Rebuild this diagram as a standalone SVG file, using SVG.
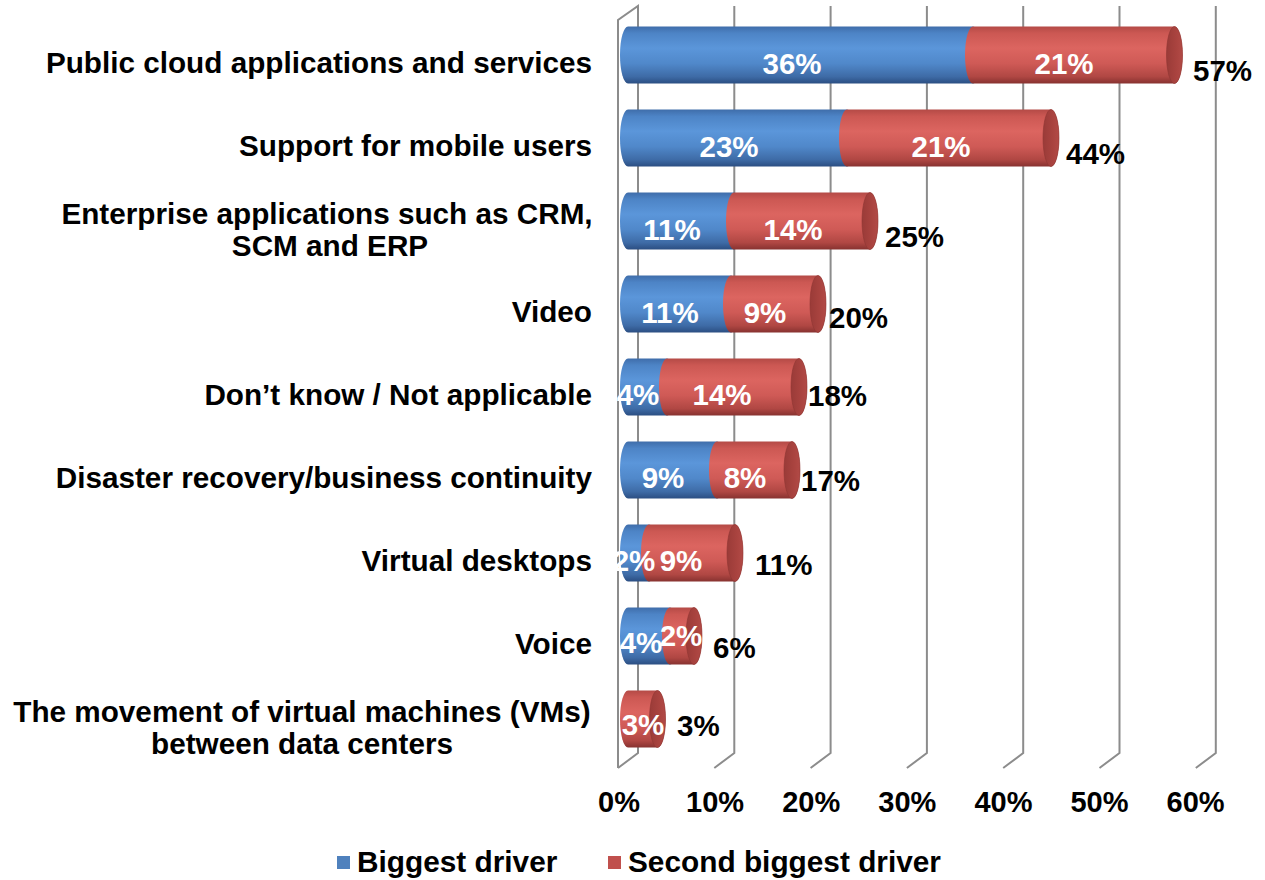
<svg xmlns="http://www.w3.org/2000/svg" width="1265" height="880" viewBox="0 0 1265 880">
<defs>
<linearGradient id="gBlue" x1="0" y1="0" x2="0" y2="1">
<stop offset="0" stop-color="#3F6DAA"/>
<stop offset="0.12" stop-color="#4D84C6"/>
<stop offset="0.38" stop-color="#5B96DA"/>
<stop offset="0.65" stop-color="#5088CA"/>
<stop offset="0.88" stop-color="#3E6BA6"/>
<stop offset="1" stop-color="#2B4E82"/>
</linearGradient>
<linearGradient id="gRed" x1="0" y1="0" x2="0" y2="1">
<stop offset="0" stop-color="#B44A46"/>
<stop offset="0.12" stop-color="#CC5853"/>
<stop offset="0.38" stop-color="#DC6560"/>
<stop offset="0.65" stop-color="#CF5A56"/>
<stop offset="0.88" stop-color="#B04743"/>
<stop offset="1" stop-color="#873230"/>
</linearGradient>
<linearGradient id="gCap" x1="0" y1="0" x2="1" y2="0">
<stop offset="0" stop-color="#9A3B38"/>
<stop offset="0.6" stop-color="#A9433F"/>
<stop offset="1" stop-color="#B24A46"/>
</linearGradient>
</defs>
<style>
.grid{stroke:#8C8C8C;stroke-width:2;fill:none}
.blue{fill:url(#gBlue)}
.red{fill:url(#gRed)}
.cap{fill:url(#gCap);stroke:#8E3533;stroke-width:0.6}
.cat{font-family:"Liberation Sans",Arial,sans-serif;font-weight:bold;font-size:29.7px;fill:#000;text-anchor:end}
.cat2{font-family:"Liberation Sans",Arial,sans-serif;font-weight:bold;font-size:29.7px;fill:#000;text-anchor:middle}
.val{font-family:"Liberation Sans",Arial,sans-serif;font-weight:bold;font-size:29.5px;fill:#FFF;text-anchor:middle}
.tot{font-family:"Liberation Sans",Arial,sans-serif;font-weight:bold;font-size:29.5px;fill:#000}
.ax{font-family:"Liberation Sans",Arial,sans-serif;font-weight:bold;font-size:29px;fill:#000;text-anchor:middle}
.leg{font-family:"Liberation Sans",Arial,sans-serif;font-weight:bold;font-size:29.8px;fill:#000}
</style>
<rect width="1265" height="880" fill="#FFFFFF"/>

<g id="gridlines">
<path class="grid" d="M618,768 L618,20 L638,6 L638,753 L618,768"/>
<path class="grid" d="M734.3,6 L734.3,753 L714.3,768"/>
<path class="grid" d="M830.6,6 L830.6,753 L810.6,768"/>
<path class="grid" d="M926.9,6 L926.9,753 L906.9,768"/>
<path class="grid" d="M1023.2,6 L1023.2,753 L1003.2,768"/>
<path class="grid" d="M1119.5,6 L1119.5,753 L1099.5,768"/>
<path class="grid" d="M1215.8,6 L1215.8,753 L1195.8,768"/>
</g>

<g id="bar-public-cloud">
<path class="blue" d="M628,26.5 L973,26.5 A8,28.5 0 0 1 973,83.5 L628,83.5 A8,28.5 0 0 1 628,26.5 Z"/>
<path class="red" d="M973,26.5 L1174.5,26.5 A8,28.5 0 0 1 1174.5,83.5 L973,83.5 A8,28.5 0 0 1 973,26.5 Z"/>
<ellipse class="cap" cx="1174.5" cy="55" rx="8" ry="28.5"/>
<text class="cat" x="592" y="73">Public cloud applications and services</text>
<text class="val" x="792" y="74">36%</text>
<text class="val" x="1064" y="74">21%</text>
<text class="tot" x="1193" y="81">57%</text>
</g>

<g id="bar-mobile">
<path class="blue" d="M628,109.5 L847,109.5 A8,28.5 0 0 1 847,166.5 L628,166.5 A8,28.5 0 0 1 628,109.5 Z"/>
<path class="red" d="M847,109.5 L1051,109.5 A8,28.5 0 0 1 1051,166.5 L847,166.5 A8,28.5 0 0 1 847,109.5 Z"/>
<ellipse class="cap" cx="1051" cy="138" rx="8" ry="28.5"/>
<text class="cat" x="592" y="156">Support for mobile users</text>
<text class="val" x="729" y="157">23%</text>
<text class="val" x="941" y="157">21%</text>
<text class="tot" x="1066" y="164">44%</text>
</g>

<g id="bar-enterprise">
<path class="blue" d="M628,192.5 L734,192.5 A8,28.5 0 0 1 734,249.5 L628,249.5 A8,28.5 0 0 1 628,192.5 Z"/>
<path class="red" d="M734,192.5 L870,192.5 A8,28.5 0 0 1 870,249.5 L734,249.5 A8,28.5 0 0 1 734,192.5 Z"/>
<ellipse class="cap" cx="870" cy="221" rx="8" ry="28.5"/>
<text class="cat2" x="327" y="223.5">Enterprise applications such as CRM,</text>
<text class="cat2" x="330" y="255.5">SCM and ERP</text>
<text class="val" x="672" y="240">11%</text>
<text class="val" x="793" y="240">14%</text>
<text class="tot" x="885" y="247">25%</text>
</g>

<g id="bar-video">
<path class="blue" d="M628,275.5 L731,275.5 A8,28.5 0 0 1 731,332.5 L628,332.5 A8,28.5 0 0 1 628,275.5 Z"/>
<path class="red" d="M731,275.5 L818,275.5 A8,28.5 0 0 1 818,332.5 L731,332.5 A8,28.5 0 0 1 731,275.5 Z"/>
<ellipse class="cap" cx="818" cy="304" rx="8" ry="28.5"/>
<text class="cat" x="592" y="322">Video</text>
<text class="val" x="670" y="323">11%</text>
<text class="val" x="765" y="323">9%</text>
<text class="tot" x="829" y="328">20%</text>
</g>

<g id="bar-dont-know">
<path class="blue" d="M628,358.5 L667,358.5 A8,28.5 0 0 1 667,415.5 L628,415.5 A8,28.5 0 0 1 628,358.5 Z"/>
<path class="red" d="M667,358.5 L799,358.5 A8,28.5 0 0 1 799,415.5 L667,415.5 A8,28.5 0 0 1 667,358.5 Z"/>
<ellipse class="cap" cx="799" cy="387" rx="8" ry="28.5"/>
<text class="cat" x="592" y="405">Don’t know / Not applicable</text>
<text class="val" x="638" y="405">4%</text>
<text class="val" x="722" y="405">14%</text>
<text class="tot" x="808" y="406">18%</text>
</g>

<g id="bar-disaster">
<path class="blue" d="M628,441.5 L717,441.5 A8,28.5 0 0 1 717,498.5 L628,498.5 A8,28.5 0 0 1 628,441.5 Z"/>
<path class="red" d="M717,441.5 L792,441.5 A8,28.5 0 0 1 792,498.5 L717,498.5 A8,28.5 0 0 1 717,441.5 Z"/>
<ellipse class="cap" cx="792" cy="470" rx="8" ry="28.5"/>
<text class="cat" x="592" y="488">Disaster recovery/business continuity</text>
<text class="val" x="663" y="488">9%</text>
<text class="val" x="745" y="488">8%</text>
<text class="tot" x="801" y="491">17%</text>
</g>

<g id="bar-virtual-desktops">
<path class="blue" d="M628,524.5 L649,524.5 A8,28.5 0 0 1 649,581.5 L628,581.5 A8,28.5 0 0 1 628,524.5 Z"/>
<path class="red" d="M649,524.5 L735,524.5 A8,28.5 0 0 1 735,581.5 L649,581.5 A8,28.5 0 0 1 649,524.5 Z"/>
<ellipse class="cap" cx="735" cy="553" rx="8" ry="28.5"/>
<text class="cat" x="592" y="571">Virtual desktops</text>
<text class="val" x="634" y="571">2%</text>
<text class="val" x="681" y="571">9%</text>
<text class="tot" x="755" y="575">11%</text>
</g>

<g id="bar-voice">
<path class="blue" d="M628,607.5 L670,607.5 A8,28.5 0 0 1 670,664.5 L628,664.5 A8,28.5 0 0 1 628,607.5 Z"/>
<path class="red" d="M670,607.5 L694,607.5 A8,28.5 0 0 1 694,664.5 L670,664.5 A8,28.5 0 0 1 670,607.5 Z"/>
<ellipse class="cap" cx="694" cy="636" rx="8" ry="28.5"/>
<text class="cat" x="592" y="654">Voice</text>
<text class="val" x="641" y="653">4%</text>
<text class="val" x="681" y="646">2%</text>
<text class="tot" x="713" y="658">6%</text>
</g>

<g id="bar-vm-movement">
<path class="red" d="M628,690.5 L657.5,690.5 A8,28.5 0 0 1 657.5,747.5 L628,747.5 A8,28.5 0 0 1 628,690.5 Z"/>
<ellipse class="cap" cx="657.5" cy="719" rx="8" ry="28.5"/>
<text class="cat2" x="302" y="722">The movement of virtual machines (VMs)</text>
<text class="cat2" x="302" y="754">between data centers</text>
<text class="val" x="643" y="735">3%</text>
<text class="tot" x="677" y="736">3%</text>
</g>

<g id="axis-labels">
<text class="ax" x="619" y="812">0%</text>
<text class="ax" x="715.1" y="812">10%</text>
<text class="ax" x="811.2" y="812">20%</text>
<text class="ax" x="907.3" y="812">30%</text>
<text class="ax" x="1003.4" y="812">40%</text>
<text class="ax" x="1099.5" y="812">50%</text>
<text class="ax" x="1195.6" y="812">60%</text>
</g>

<g id="legend">
<rect x="337" y="856" width="13" height="13" fill="#4F81BD"/>
<text class="leg" x="357" y="872">Biggest driver</text>
<rect x="608" y="856" width="13" height="13" fill="#C0504D"/>
<text class="leg" x="628" y="872">Second biggest driver</text>
</g>
</svg>
